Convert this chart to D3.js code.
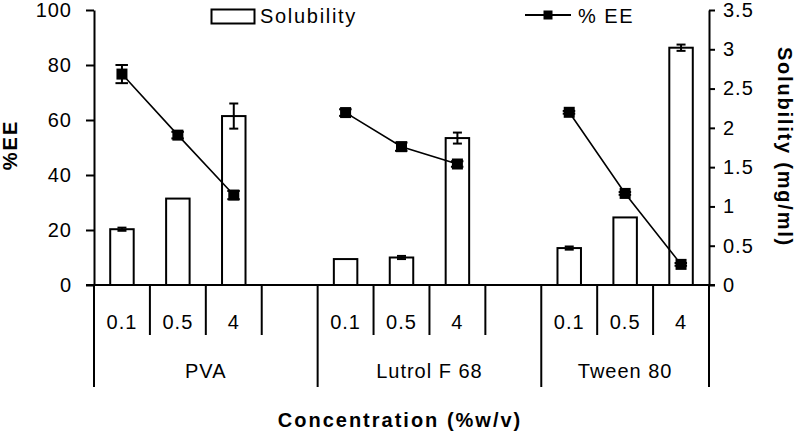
<!DOCTYPE html>
<html>
<head>
<meta charset="utf-8">
<script src="https://cdn.jsdelivr.net/npm/d3@7/dist/d3.min.js"></script>
<style>
  html, body { margin: 0; padding: 0; background: #fff; }
  text { font-family: "Liberation Sans", Arial, sans-serif; fill: #000; }
</style>
</head>
<body>
<svg id="chart" width="799" height="433"></svg>
<script>
const groups = ["PVA", "Lutrol F 68", "Tween 80"];
const concentrations = ["0.1", "0.5", "4"];
const solubility = [0.71, 1.10, 2.15, 0.33, 0.35, 1.87, 0.47, 0.86, 3.02];
const solubilityErr = [0.02, 0.0, 0.16, 0.0, 0.02, 0.07, 0.02, 0.0, 0.04];
const ee = [76.7, 54.5, 32.7, 62.7, 50.3, 44.0, 62.8, 33.3, 7.5];
const eeErr = [3.3, 1.2, 1.5, 1.2, 1.5, 1.0, 0.5, 0.5, 0.5];
const leftTicks = [0, 20, 40, 60, 80, 100];
const rightTicks = [0, 0.5, 1, 1.5, 2, 2.5, 3, 3.5];
const seriesNames = ["Solubility", "% EE"];
const xTitle = "Concentration (%w/v)";
const yLeftTitle = "%EE";
const yRightTitle = "Solubility (mg/ml)";

// build slots: each group has 3 concentrations + an empty spacer (except last)
const slots = [];
groups.forEach((g, gi) => {
  concentrations.forEach((c, ci) => slots.push({ key: g + "|" + c, group: g, conc: c, idx: gi * 3 + ci }));
  if (gi < groups.length - 1) slots.push({ key: g + "|gap", group: g, conc: null, idx: null });
});
const points = slots.filter(s => s.idx !== null).map(s => ({
  key: s.key, group: s.group, conc: s.conc,
  sol: solubility[s.idx], solErr: solubilityErr[s.idx],
  ee: ee[s.idx], eeErr: eeErr[s.idx]
}));

const svg = d3.select("#chart");
const L = 94, R = 709, T = 10, B = 285;
const x = d3.scaleBand().domain(slots.map(s => s.key)).range([L, R]).padding(0);
const yL = d3.scaleLinear().domain([0, 100]).range([B, T]);
const yR = d3.scaleLinear().domain([0, 3.5]).range([B, T]);
const bw = x.bandwidth() * 0.42;
const cx = k => x(k) + x.bandwidth() / 2;

// bars
svg.append("g").selectAll("rect").data(points).join("rect")
  .attr("x", d => cx(d.key) - bw / 2)
  .attr("y", d => yR(d.sol))
  .attr("width", bw)
  .attr("height", d => yR(0) - yR(d.sol))
  .attr("fill", "#fff").attr("stroke", "#000").attr("stroke-width", 2);

// bar error bars
const be = svg.append("g").attr("stroke", "#000").attr("stroke-width", 2);
points.filter(d => d.solErr > 0).forEach(d => {
  const c = cx(d.key);
  be.append("line").attr("x1", c).attr("x2", c).attr("y1", yR(d.sol + d.solErr)).attr("y2", yR(d.sol - d.solErr));
  [d.sol + d.solErr, d.sol - d.solErr].forEach(v =>
    be.append("line").attr("x1", c - 4.5).attr("x2", c + 4.5).attr("y1", yR(v)).attr("y2", yR(v)));
});

// EE lines per group
const line = d3.line().x(d => cx(d.key)).y(d => yL(d.ee));
groups.forEach(g => {
  svg.append("path").datum(points.filter(p => p.group === g))
    .attr("d", line).attr("fill", "none").attr("stroke", "#000").attr("stroke-width", 1.6);
});
// EE error bars
const ebg = svg.append("g").attr("stroke", "#000").attr("stroke-width", 2);
points.forEach(d => {
  const c = cx(d.key);
  ebg.append("line").attr("x1", c).attr("x2", c).attr("y1", yL(d.ee + d.eeErr)).attr("y2", yL(d.ee - d.eeErr));
  [d.ee + d.eeErr, d.ee - d.eeErr].forEach(v =>
    ebg.append("line").attr("x1", c - 6.5).attr("x2", c + 6).attr("y1", yL(v)).attr("y2", yL(v)));
});
// markers
svg.append("g").selectAll("rect").data(points).join("rect")
  .attr("x", d => cx(d.key) - 5.5).attr("y", d => yL(d.ee) - 5.5)
  .attr("width", 11).attr("height", 11).attr("fill", "#000");

// axes
const axisStyle = g => {
  g.selectAll("path.domain").attr("stroke", "#000").attr("stroke-width", 2);
  g.selectAll(".tick line").attr("stroke", "#000").attr("stroke-width", 2);
  g.selectAll(".tick text").attr("font-size", 20).attr("letter-spacing", 1)
    .style("font-family", "'Liberation Sans', Arial, sans-serif").attr("fill", "#000");
};
svg.append("g").attr("transform", `translate(${L},0)`)
  .call(d3.axisLeft(yL).tickValues(leftTicks).tickSize(8).tickPadding(14).tickSizeOuter(0))
  .call(axisStyle);
svg.append("g").attr("transform", `translate(${R},0)`)
  .call(d3.axisRight(yR).tickValues(rightTicks).tickFormat(d3.format("")).tickSize(6).tickPadding(8).tickSizeOuter(0))
  .call(axisStyle);

// x axis line
svg.append("line").attr("x1", L - 8).attr("x2", R + 6).attr("y1", B).attr("y2", B)
  .attr("stroke", "#000").attr("stroke-width", 2);

// category boundaries
const cat = svg.append("g").attr("stroke", "#000").attr("stroke-width", 2);
const bounds = slots.map(s => x(s.key)).concat([R]);
const groupStarts = new Set();
groups.forEach(g => groupStarts.add(x(slots.find(s => s.group === g).key)));
groupStarts.add(R);
bounds.forEach(b => {
  const long = [...groupStarts].some(v => Math.abs(v - b) < 0.5);
  cat.append("line").attr("x1", b).attr("x2", b).attr("y1", B).attr("y2", long ? 387 : 335);
});
// concentration labels
svg.append("g").selectAll("text").data(points).join("text")
  .attr("x", d => cx(d.key)).attr("y", 329)
  .attr("text-anchor", "middle").attr("font-size", 20).attr("letter-spacing", 1)
  .text(d => d.conc);
// group labels
groups.forEach((g, gi) => {
  const start = x(slots.find(s => s.group === g).key);
  const end = gi < groups.length - 1 ? x(slots.find(s => s.group === groups[gi + 1]).key) : R;
  svg.append("text").attr("x", (start + end) / 2).attr("y", 378)
    .attr("text-anchor", "middle").attr("font-size", 20).attr("letter-spacing", 1).text(g);
});

// titles
svg.append("text").attr("x", 400).attr("y", 427).attr("text-anchor", "middle")
  .attr("font-size", 20).attr("font-weight", "bold").attr("letter-spacing", 2).text(xTitle);
svg.append("text").attr("transform", "translate(17,145) rotate(-90)").attr("text-anchor", "middle")
  .attr("font-size", 20).attr("font-weight", "bold").attr("letter-spacing", 2).text(yLeftTitle);
svg.append("text").attr("transform", "translate(778,147) rotate(90)").attr("text-anchor", "middle")
  .attr("font-size", 20).attr("font-weight", "bold").attr("letter-spacing", 1.8).text(yRightTitle);

// legend
const lg = svg.append("g");
lg.append("rect").attr("x", 211.5).attr("y", 9.5).attr("width", 43).attr("height", 14)
  .attr("fill", "#fff").attr("stroke", "#000").attr("stroke-width", 2);
lg.append("text").attr("x", 260).attr("y", 23).attr("font-size", 20).attr("letter-spacing", 1.7).text(seriesNames[0]);
lg.append("line").attr("x1", 525).attr("x2", 571).attr("y1", 15).attr("y2", 15)
  .attr("stroke", "#000").attr("stroke-width", 2);
lg.append("rect").attr("x", 543.5).attr("y", 10.5).attr("width", 9).attr("height", 9).attr("fill", "#000");
lg.append("text").attr("x", 578).attr("y", 23).attr("font-size", 20).attr("letter-spacing", 1.5).text(seriesNames[1]);
</script>
</body>
</html>
